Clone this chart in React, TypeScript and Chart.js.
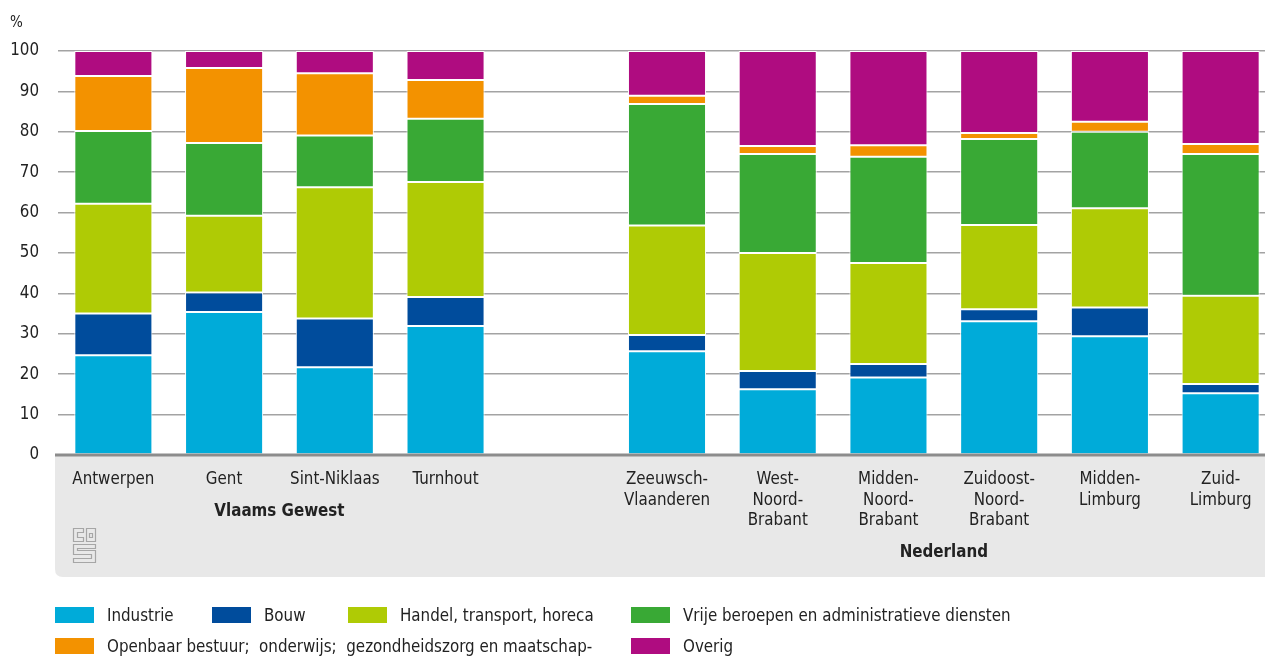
import React, { useEffect, useRef } from "react";
import { Chart, registerables } from "chart.js";

Chart.register(...registerables);

// ---------- data ----------
const categories: string[][] = [
  ["Antwerpen"],
  ["Gent"],
  ["Sint-Niklaas"],
  ["Turnhout"],
  [""],
  ["Zeeuwsch-", "Vlaanderen"],
  ["West-", "Noord-", "Brabant"],
  ["Midden-", "Noord-", "Brabant"],
  ["Zuidoost-", "Noord-", "Brabant"],
  ["Midden-", "Limburg"],
  ["Zuid-", "Limburg"],
];

const industrie = [24.7, 35.4, 21.7, 31.9, null, 25.7, 16.3, 19.2, 33.1, 29.4, 15.3];
const bouw = [10.3, 4.8, 12.1, 7.2, null, 4.0, 4.5, 3.3, 3.0, 7.1, 2.3];
const handel = [27.2, 19.0, 32.5, 28.5, null, 27.1, 29.2, 25.0, 20.8, 24.6, 21.8];
const vrije = [18.0, 18.0, 12.8, 15.6, null, 30.1, 24.5, 26.3, 21.3, 18.9, 35.1];
const openbaar = [13.6, 18.6, 15.4, 9.6, null, 2.0, 2.0, 2.9, 1.5, 2.5, 2.5];
const overig = [6.2, 4.2, 5.5, 7.2, null, 11.1, 23.5, 23.3, 20.3, 17.5, 23.0];

const seriesNames = [
  "Industrie",
  "Bouw",
  "Handel, transport, horeca",
  "Vrije beroepen en administratieve diensten",
  "Openbaar bestuur;  onderwijs;  gezondheidszorg en maatschap-",
  "Overig",
];
const seriesValues = [industrie, bouw, handel, vrije, openbaar, overig];
const seriesColors = ["#00abd9", "#004c9c", "#afcb05", "#39a935", "#f39200", "#af0c80"];

const groupNames = ["Vlaams Gewest", "Nederland"];
const groupStart = [0, 5];
const groupEnd = [3, 10];

const yTicks = [0, 10, 20, 30, 40, 50, 60, 70, 80, 90, 100];
const yUnit = "%";

// ---------- style ----------
const FONT = "'DejaVu Sans Condensed', 'Liberation Sans Narrow', 'DejaVu Sans', sans-serif";
const FS = 16.8;
const CANVAS_W = 1276;
const CANVAS_H = 657;
const PLOT_TOP = 51;
const PLOT_BOTTOM = 455;
const PLOT_LEFT = 58;
const TEXT = "#222222";

// legend placement: [left, top] per series
const legendPos: number[][] = [
  [55, 607],
  [212, 607],
  [348, 607],
  [631, 607],
  [55, 638],
  [631, 638],
];

const decoPlugin = {
  id: "deco",
  beforeDraw(chart: any) {
    const ctx = chart.ctx;
    const { left, bottom } = chart.chartArea;
    ctx.save();
    ctx.fillStyle = "#e8e8e8";
    const x0 = left - 3;
    const y0 = bottom;
    const y1 = bottom + 122;
    const x1 = chart.width;
    const r = 8;
    ctx.beginPath();
    ctx.moveTo(x0, y0);
    ctx.lineTo(x1, y0);
    ctx.lineTo(x1, y1);
    ctx.lineTo(x0 + r, y1);
    ctx.quadraticCurveTo(x0, y1, x0, y1 - r);
    ctx.closePath();
    ctx.fill();
    ctx.restore();
  },
  afterDatasetsDraw(chart: any) {
    const ctx = chart.ctx;
    const { left, bottom } = chart.chartArea;
    ctx.save();
    ctx.fillStyle = "#8c8c8c";
    ctx.fillRect(left - 3, bottom - 1.5, chart.width, 3);
    ctx.restore();
  },
  afterDraw(chart: any) {
    const ctx = chart.ctx;
    const { left, bottom } = chart.chartArea;
    const xs = chart.scales.x;
    ctx.save();
    // unit label
    ctx.fillStyle = TEXT;
    ctx.font = `15px ${FONT}`;
    ctx.textAlign = "left";
    ctx.textBaseline = "middle";
    ctx.fillText(yUnit, 10, 23);
    // group labels
    ctx.font = `bold ${FS}px ${FONT}`;
    ctx.textAlign = "center";
    const groupY = [bottom + 57, bottom + 98];
    groupNames.forEach((name, i) => {
      const cx = (xs.getPixelForValue(groupStart[i]) + xs.getPixelForValue(groupEnd[i])) / 2;
      ctx.fillText(name, cx, groupY[i]);
    });
    // cbs logo (outline)
    const ox = left + 15.5;
    const oy = bottom + 73.5;
    ctx.strokeStyle = "#a6a6a6";
    ctx.lineWidth = 1.2;
    ctx.translate(ox, oy);
    // c
    ctx.beginPath();
    ctx.moveTo(10, 0);
    ctx.lineTo(0, 0);
    ctx.lineTo(0, 13);
    ctx.lineTo(10, 13);
    ctx.lineTo(10, 9);
    ctx.lineTo(4, 9);
    ctx.lineTo(4, 4);
    ctx.lineTo(10, 4);
    ctx.closePath();
    ctx.stroke();
    // b
    ctx.beginPath();
    ctx.rect(13, 0, 9, 13);
    ctx.stroke();
    ctx.beginPath();
    ctx.rect(16, 5, 3, 4);
    ctx.stroke();
    // s meander
    ctx.beginPath();
    ctx.moveTo(22, 16);
    ctx.lineTo(0, 16);
    ctx.lineTo(0, 26);
    ctx.lineTo(18, 26);
    ctx.lineTo(18, 30);
    ctx.lineTo(0, 30);
    ctx.lineTo(0, 34);
    ctx.lineTo(22, 34);
    ctx.lineTo(22, 22);
    ctx.lineTo(4, 22);
    ctx.lineTo(4, 20);
    ctx.lineTo(22, 20);
    ctx.closePath();
    ctx.stroke();
    ctx.restore();
  },
};

export default function App() {
  const canvasRef = useRef<HTMLCanvasElement | null>(null);

  useEffect(() => {
    if (!canvasRef.current) return;
    const chart = new Chart(canvasRef.current, {
      type: "bar",
      data: {
        labels: categories,
        datasets: seriesValues.map((vals, i) => ({
          label: seriesNames[i],
          data: vals,
          backgroundColor: seriesColors[i],
          borderColor: "#ffffff",
          borderWidth: 1,
          borderSkipped: false,
          categoryPercentage: 0.705,
          barPercentage: 1,
        })),
      },
      options: {
        animation: false,
        responsive: false,
        maintainAspectRatio: false,
        devicePixelRatio: 1,
        layout: { padding: { top: PLOT_TOP, left: 0, right: 0, bottom: 0 } },
        plugins: {
          legend: { display: false },
          tooltip: { enabled: false },
          title: { display: false },
        },
        scales: {
          x: {
            stacked: true,
            grid: { display: false, drawTicks: false },
            border: { display: false },
            ticks: {
              color: TEXT,
              font: { family: FONT, size: FS, lineHeight: 1.2 },
              padding: 15,
              maxRotation: 0,
              minRotation: 0,
              autoSkip: false,
            },
            afterFit: (s: any) => {
              s.height = CANVAS_H - PLOT_BOTTOM;
            },
          },
          y: {
            stacked: true,
            min: 0,
            max: 100,
            afterBuildTicks: (s: any) => {
              s.ticks = yTicks.map((v) => ({ value: v }));
            },
            grid: { color: "#a3a3a3", lineWidth: 1.5, drawTicks: false },
            border: { display: false },
            ticks: {
              color: TEXT,
              font: { family: FONT, size: FS },
              padding: 19,
            },
            afterFit: (s: any) => {
              s.width = PLOT_LEFT;
            },
          },
        },
      },
      plugins: [decoPlugin],
    });
    return () => chart.destroy();
  }, []);

  return (
    <div
      style={{
        position: "fixed",
        left: 0,
        top: 0,
        width: "100vw",
        height: "100vh",
        overflow: "hidden",
        background: "#ffffff",
      }}
    >
      <canvas
        ref={canvasRef}
        width={CANVAS_W}
        height={CANVAS_H}
        style={{ position: "absolute", left: 0, top: 0, width: CANVAS_W, height: CANVAS_H }}
      />
      {seriesNames.map((name, i) => (
        <div
          key={name}
          style={{
            position: "absolute",
            left: legendPos[i][0],
            top: legendPos[i][1],
            height: 16,
            display: "flex",
            alignItems: "center",
            fontFamily: FONT,
            fontSize: FS,
            color: TEXT,
            whiteSpace: "pre",
          }}
        >
          <span
            style={{
              display: "inline-block",
              width: 39,
              height: 16,
              background: seriesColors[i],
              marginRight: 13,
              flex: "none",
            }}
          />
          <span>{name}</span>
        </div>
      ))}
    </div>
  );
}
